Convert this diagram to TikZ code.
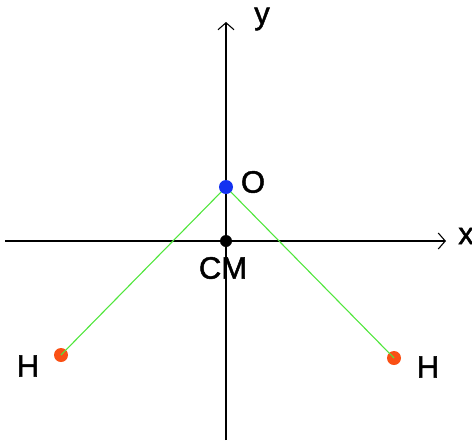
\documentclass[tikz,border=0pt]{standalone}
\usepackage{fontspec}
\setmainfont[FakeBold=1.5]{Liberation Sans}
\usetikzlibrary{arrows.meta}
\begin{document}
\begin{tikzpicture}[x=1pt,y=-1pt,
  axis/.style={line width=1.5pt,-{Straight Barb[length=7pt,width=16pt,line width=1.1pt]}},
  bond/.style={draw={rgb,255:red,80;green,230;blue,60},line width=1.1pt},
  lbl/.style={font=\fontsize{31}{33}\selectfont,inner sep=0pt}]
\useasboundingbox (0,0) rectangle (472,440);
\coordinate (ybot) at (226,440);
\coordinate (ytop) at (226,22);
\coordinate (xl) at (5,241);
\coordinate (xr) at (446,241);
\draw[axis] (ybot) -- (ytop);
\draw[axis] (xl) -- (xr);
\node[circle,fill=black,inner sep=0pt,minimum size=12pt] (CM) at (226,241) {};
\node[circle,fill={rgb,255:red,250;green,80;blue,20},inner sep=0pt,minimum size=14pt] (H1) at (61,355) {};
\node[circle,fill={rgb,255:red,250;green,80;blue,20},inner sep=0pt,minimum size=14pt] (H2) at (394,358) {};
\coordinate (O) at (226,187);
\draw[bond] (O) -- (H1.center);
\draw[bond] (O) -- (H2.center);
\node[circle,fill={rgb,255:red,20;green,50;blue,240},inner sep=0pt,minimum size=14pt] (Odot) at (O) {};
\node[lbl] (ly) at (262,19) {y};
\node[lbl] (lx) at (466,236) {x};
\node[lbl] (lO) at (253,182) {O};
\node[lbl] (lCM) at (223,268) {CM};
\node[lbl] (lH1) at (28,366) {H};
\node[lbl] (lH2) at (428,367) {H};
\end{tikzpicture}
\end{document}
